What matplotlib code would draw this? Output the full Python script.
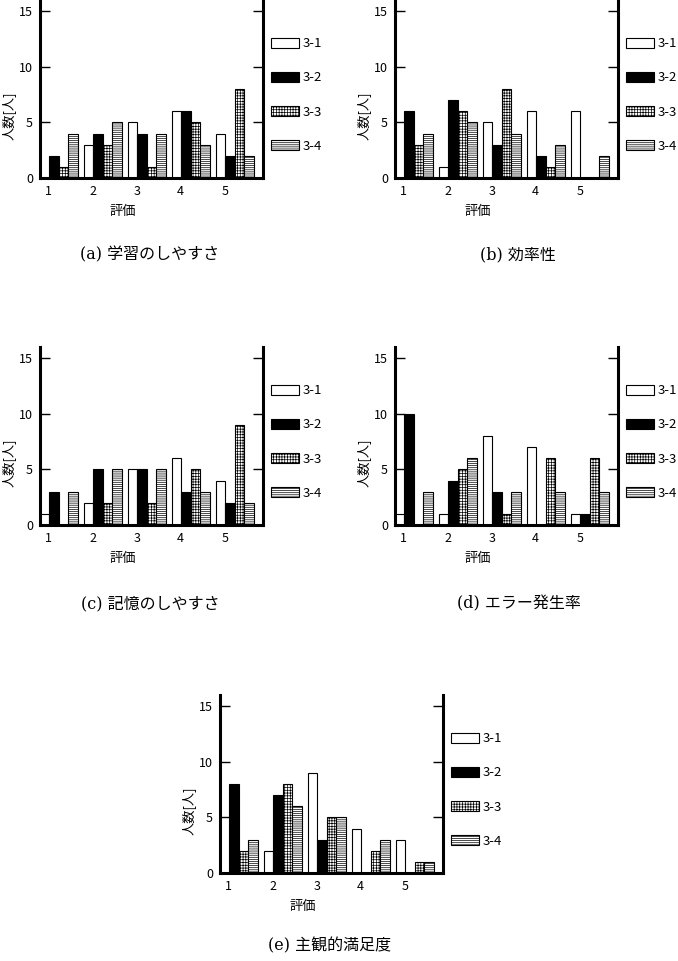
import numpy as np
import matplotlib
matplotlib.use("Agg")
import matplotlib.pyplot as plt

plt.rcParams['font.family'] = ['Noto Sans CJK JP', 'DejaVu Sans']
plt.rcParams['hatch.linewidth'] = 0.5
plt.rcParams['hatch.color'] = '#333333'

# ratings and groups
ratings = ['1', '2', '3', '4', '5']
groups = ['3-1', '3-2', '3-3', '3-4']

# (a) 学習のしやすさ
learn_31 = [0, 3, 5, 6, 4]
learn_32 = [2, 4, 4, 6, 2]
learn_33 = [1, 3, 1, 5, 8]
learn_34 = [4, 5, 4, 3, 2]

# (b) 効率性
eff_31 = [0, 1, 5, 6, 6]
eff_32 = [6, 7, 3, 2, 0]
eff_33 = [3, 6, 8, 1, 0]
eff_34 = [4, 5, 4, 3, 2]

# (c) 記憶のしやすさ
mem_31 = [1, 2, 5, 6, 4]
mem_32 = [3, 5, 5, 3, 2]
mem_33 = [0, 2, 2, 5, 9]
mem_34 = [3, 5, 5, 3, 2]

# (d) エラー発生率
err_31 = [1, 1, 8, 7, 1]
err_32 = [10, 4, 3, 0, 1]
err_33 = [0, 5, 1, 6, 6]
err_34 = [3, 6, 3, 3, 3]

# (e) 主観的満足度
sat_31 = [0, 2, 9, 4, 3]
sat_32 = [8, 7, 3, 0, 0]
sat_33 = [2, 8, 5, 2, 1]
sat_34 = [3, 6, 5, 3, 1]

captions = ['(a) 学習のしやすさ', '(b) 効率性', '(c) 記憶のしやすさ',
            '(d) エラー発生率', '(e) 主観的満足度']

W, H = 678, 961
fig = plt.figure(figsize=(W / 100, H / 100), dpi=100)

styles = [dict(facecolor='white', hatch=None),
          dict(facecolor='black', hatch=None),
          dict(facecolor='white', hatch='++++++'),
          dict(facecolor='white', hatch='--------')]

bar_w = 0.215


def panel(left_px, bottom_px, series):
    ax = fig.add_axes([left_px / W, 1 - bottom_px / H, 223 / W, 178 / H])
    x = np.arange(len(ratings))
    for j, (vals, lab) in enumerate(zip(series, groups)):
        ax.bar(x + j * bar_w, vals, width=bar_w, align='edge', label=lab,
               edgecolor='black', linewidth=0.8, **styles[j])
    ax.set_xlim(0, 5.07)
    ax.set_ylim(0, 16)
    ax.set_yticks([0, 5, 10, 15])
    ax.set_xticks(x + 0.2)
    ax.set_xticklabels(ratings, fontsize=9)
    ax.tick_params(axis='x', length=0, pad=5)
    ax.tick_params(axis='y', direction='in', length=7, width=1, labelsize=9,
                   right=True, pad=5)
    ax.spines['top'].set_visible(False)
    for s in ['left', 'right', 'bottom']:
        ax.spines[s].set_linewidth(2.2)
    ax.text(-0.14, 0.35, '人数[人]', transform=ax.transAxes, rotation=90,
            ha='center', va='center', fontsize=9.5)
    ax.text(0.37, -0.19, '評価', transform=ax.transAxes,
            ha='center', va='center', fontsize=9.5)
    ax.legend(loc='upper left', bbox_to_anchor=(1.036, 0.79), frameon=False,
              fontsize=9.5, handlelength=2.1, handleheight=0.8,
              labelspacing=1.6, handletextpad=0.3, borderpad=0,
              borderaxespad=0)
    return ax


panel(40, 178, [learn_31, learn_32, learn_33, learn_34])
panel(395, 178, [eff_31, eff_32, eff_33, eff_34])
panel(40, 525, [mem_31, mem_32, mem_33, mem_34])
panel(395, 525, [err_31, err_32, err_33, err_34])
panel(220, 873, [sat_31, sat_32, sat_33, sat_34])

cap_pos = [(150, 255), (518, 255), (150, 604), (519, 604), (330, 946)]
for (cx, cy), cap in zip(cap_pos, captions):
    fig.text(cx / W, 1 - cy / H, cap, ha='center', va='center',
             fontsize=11.5, family=['DejaVu Serif', 'Noto Sans CJK JP'])

fig.savefig('out.png', dpi=100)
